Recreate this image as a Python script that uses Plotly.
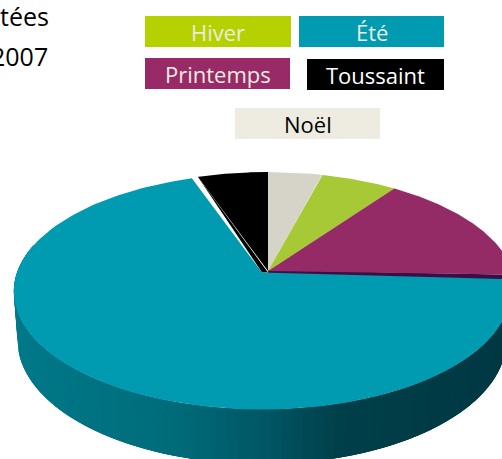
import numpy as np
import plotly.graph_objects as go

# Data
categories = ["Noël", "Hiver", "Printemps", "Été", "Toussaint"]
values = [4.1, 5.8, 15.6, 69.15, 5.35]
slice_colors = ["#d6d4c8", "#a6c935", "#952b66", "#009bb0", "#000000"]
legend_labels = ["Hiver", "Été", "Printemps", "Toussaint", "Noël"]
legend_fill = ["#b5d100", "#009bb0", "#982a67", "#000000", "#eeece1"]
legend_text = ["#eeece1", "#eeece1", "#eeece1", "#ffffff", "#000000"]
legend_boxes = [(145, 291, 16, 47), (299, 444, 16, 47), (145, 290, 58, 89),
                (307, 444, 59, 90), (235, 380, 108, 139)]
title_lines = [("tées", 51, 16), ("2007", 50, 56)]

# Projection of the pie disc
CX, CY, R, H, K = 268.0, 271.0, 245.0, 114.9, 0.161
DEPTH = 48.0
BOTTOM_SCALE = 0.985
EXPLODE = {"Été": (-6.0, 1.5)}
START_PAD = {"Été": np.radians(1.5)}


def project(theta, r=1.0, dx=0.0, dy=0.0, depth=0.0):
    u = r * np.sin(theta)
    v = r * np.cos(theta)
    w = 1 + K * v
    return CX + dx + R * u / w, CY + dy - H * v / w + depth / w


def lerp(c1, c2, t):
    return "#%02x%02x%02x" % tuple(int(round(a + (b - a) * t)) for a, b in zip(c1, c2))


fig = go.Figure()


def poly(xs, ys, color):
    fig.add_trace(go.Scatter(x=list(xs), y=list(ys), mode="lines", fill="toself",
                             fillcolor=color, line=dict(width=0, color=color),
                             hoverinfo="skip", showlegend=False))


edges = np.cumsum([0] + values) / sum(values) * 2 * np.pi
ranges = {c: (edges[i], edges[i + 1]) for i, c in enumerate(categories)}

# dark inner wall of the Printemps slice
a0, a1 = ranges["Printemps"]
x1, y1 = project(np.array([a1]))
x2, y2 = project(np.array([a1]), depth=8.0)
poly([CX, x1[0], x2[0], CX], [CY - 1, y1[0], y2[0], CY + 3], "#3b0f45")

# black inner wall of the Toussaint slice, up to the apex of the exploded slice
a0, a1 = ranges["Toussaint"]
x1, y1 = project(np.array([a0]))
dx, dy = EXPLODE["Été"]
poly([x1[0], CX + dx, CX, x1[0]], [y1[0], CY + dy, CY + dy, y1[0]], "#000000")

# Shaded wall of the exploded slice, drawn as overlapping narrow bands
stops = [(0, (0, 122, 138)), (170, (0, 108, 122)), (260, (0, 88, 102)),
         (340, (0, 64, 74)), (502, (0, 56, 66))]
a0, a1 = ranges["Été"]
start = max(a0, np.pi / 2)
end = min(a1, 3 * np.pi / 2 + 0.25)
band_edges = np.linspace(start, end, 90)
sx = [s[0] for s in stops]
for i in range(len(band_edges) - 1):
    stop = band_edges[min(i + 3, len(band_edges) - 1)]
    th = np.linspace(band_edges[i], stop, 5)
    xt, yt = project(th, dx=dx, dy=dy)
    xb, yb = project(th, r=BOTTOM_SCALE, dx=dx, dy=dy, depth=DEPTH)
    mx = float(xt[:2].mean())
    col = tuple(np.interp(mx, sx, [s[1][c] for s in stops]) for c in range(3))
    poly(np.r_[xt, xb[::-1]], np.r_[yt, yb[::-1]], lerp(col, col, 0))

# Top faces
for name, color in zip(categories, slice_colors):
    a0, a1 = ranges[name]
    th = np.linspace(a0 + START_PAD.get(name, 0.0), a1, 160)
    dx, dy = EXPLODE.get(name, (0.0, 0.0))
    xs, ys = project(th, dx=dx, dy=dy)
    poly(np.r_[CX + dx, xs, CX + dx], np.r_[CY + dy, ys, CY + dy], color)

shapes = []
annotations = []
for label, fill, tc, (x0, x1_, y0, y1_) in zip(legend_labels, legend_fill, legend_text, legend_boxes):
    shapes.append(dict(type="rect", xref="x", yref="y", x0=x0, x1=x1_, y0=y0, y1=y1_,
                       fillcolor=fill, line=dict(width=0), layer="below"))
    annotations.append(dict(x=(x0 + x1_) / 2, y=(y0 + y1_) / 2 + 0.5, text=label, showarrow=False,
                            xref="x", yref="y", xanchor="center", yanchor="middle",
                            font=dict(family="Open Sans", size=22, color=tc)))
for text, x, y in title_lines:
    annotations.append(dict(x=x, y=y, text=text, showarrow=False, xref="x", yref="y",
                            xanchor="right", yanchor="middle",
                            font=dict(family="Open Sans", size=25, color="#000000")))

fig.update_layout(
    width=502, height=459, margin=dict(l=0, r=0, t=0, b=0),
    paper_bgcolor="white", plot_bgcolor="white", showlegend=False,
    xaxis=dict(range=[0, 502], visible=False, fixedrange=True),
    yaxis=dict(range=[459, 0], visible=False, fixedrange=True),
    shapes=shapes, annotations=annotations,
)
fig.write_html("out.html", config={"displayModeBar": False},
               post_script="document.body.style.margin='0';document.body.style.overflow='hidden';")
